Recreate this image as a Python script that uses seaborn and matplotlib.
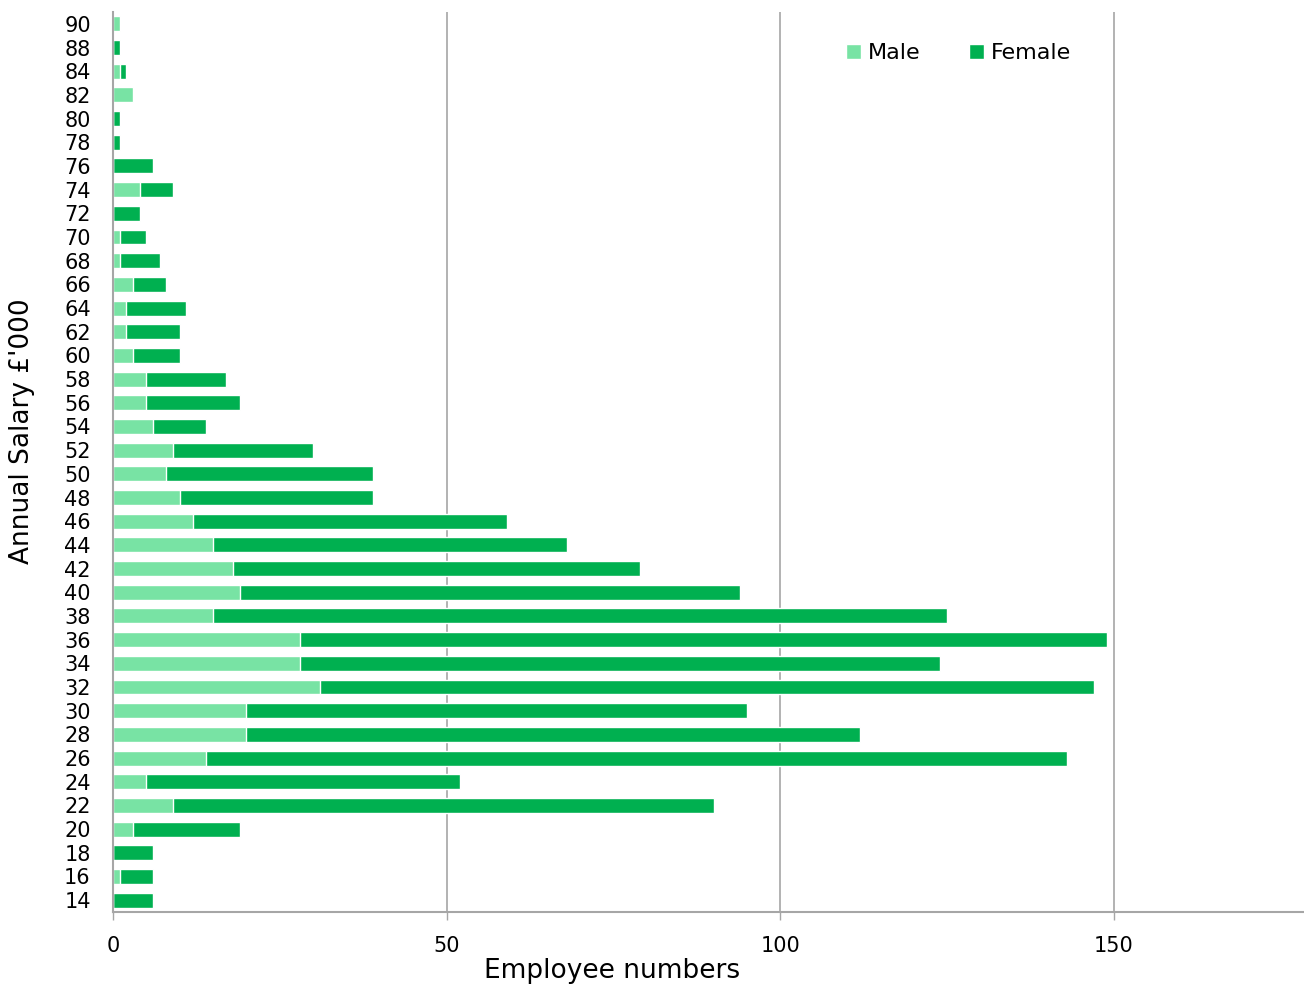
import matplotlib
matplotlib.use("Agg")
import matplotlib.pyplot as plt
from matplotlib.patches import Patch
import seaborn as sns
import pandas as pd

# Salary bands (£'000) and headcounts per band
salary_bands = [14, 16, 18, 20, 22, 24, 26, 28, 30, 32, 34, 36, 38, 40, 42, 44,
                46, 48, 50, 52, 54, 56, 58, 60, 62, 64, 66, 68, 70, 72, 74, 76,
                78, 80, 82, 84, 88, 90]
male = [0, 1, 0, 3, 9, 5, 14, 20, 20, 31, 28, 28, 15, 19, 18, 15,
        12, 10, 8, 9, 6, 5, 5, 3, 2, 2, 3, 1, 1, 0, 4, 0,
        0, 0, 3, 1, 0, 1]
female = [6, 5, 6, 16, 81, 47, 129, 92, 75, 116, 96, 121, 110, 75, 61, 53,
          47, 29, 31, 21, 8, 14, 12, 7, 8, 9, 5, 6, 4, 4, 5, 6,
          1, 1, 0, 1, 1, 0]

male_color = "#78E3A4"
female_color = "#00B050"

df = pd.DataFrame({
    "band": [str(b) for b in salary_bands],
    "male": male,
    "female": female,
})
df["total"] = df["male"] + df["female"]
order = [str(b) for b in reversed(salary_bands)]

sns.set_theme(style="white")
plt.rcParams["font.family"] = ["DejaVu Sans"]

fig = plt.figure(figsize=(13.04, 9.85), dpi=100)
ax = fig.add_axes([113 / 1304, 1 - 912 / 985, (1304 - 113) / 1304, 900 / 985])

# Stacked bars: total in the female colour, male segment drawn over it
sns.barplot(data=df, x="total", y="band", order=order, orient="h",
            color=female_color, width=0.63, saturation=1, ax=ax)
sns.barplot(data=df, x="male", y="band", order=order, orient="h",
            color=male_color, width=0.63, saturation=1, ax=ax)

ax.set_xlim(0, 178.5)
ax.set_ylim(len(order) - 0.5, -0.5)
ax.set_xticks([0, 50, 100, 150])
ax.xaxis.grid(True, color="#A6A6A6", linewidth=1.2)
ax.set_axisbelow(True)

for side in ["top", "right"]:
    ax.spines[side].set_visible(False)
for side in ["left", "bottom"]:
    ax.spines[side].set_color("#A6A6A6")
    ax.spines[side].set_linewidth(1.5)

ax.tick_params(axis="x", which="both", bottom=True, length=5.5, width=1,
               color="#A6A6A6", pad=12, labelsize=15, labelcolor="black")
ax.tick_params(axis="y", left=False, length=0, pad=16, labelsize=15,
               labelcolor="black")

ax.set_xlabel("Employee numbers", fontsize=19, color="black")
ax.xaxis.set_label_coords(0.419, -0.051)
ax.set_ylabel("Annual Salary £'000", fontsize=19, color="black")
ax.yaxis.set_label_coords(-0.0655, 0.534)

handles = [Patch(facecolor=male_color, label="Male"),
           Patch(facecolor=female_color, label="Female")]
ax.legend(handles=handles, loc="center left",
          bbox_to_anchor=((846 - 113) / 1191, (912 - 53) / 900),
          ncol=2, frameon=False, fontsize=16, borderpad=0, borderaxespad=0,
          handlelength=0.68, handleheight=0.68, handletextpad=0.3,
          columnspacing=2.2, labelcolor="black")

fig.savefig("out.png", dpi=100)
